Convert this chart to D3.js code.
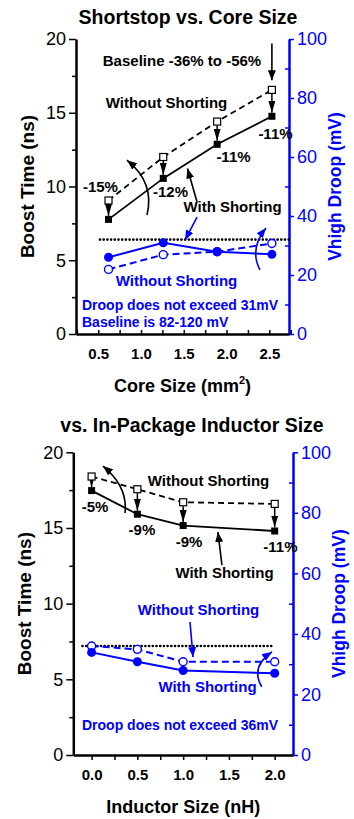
<!DOCTYPE html>
<html>
<head>
<meta charset="utf-8">
<script src="https://cdn.jsdelivr.net/npm/d3@7"></script>
<style>
  body { margin: 0; background: #fff; }
  svg { font-family: "Liberation Sans", Arial, sans-serif; }
</style>
</head>
<body>
<script>
// ---- data ----
// panel 1: core size
var coreSize      = [0.62, 1.26, 1.89, 2.53];
var boostNoShort1 = [9.05, 12.0, 14.4, 16.55];
var boostShort1   = [7.77, 10.55, 12.86, 14.76];
var droopShort1   = [26.0, 30.9, 27.9, 27.0];
var droopNoShort1 = [21.9, 26.9, 27.9, 30.7];
var reduction1    = ["-15%", "-12%", "-11%", "-11%"];
var droopLimit1   = 32;

// panel 2: in-package inductor
var inductorSize  = [0, 0.5, 1.0, 2.0];
var boostNoShort2 = [18.4, 17.56, 16.7, 16.59];
var boostShort2   = [17.47, 15.91, 15.16, 14.8];
var droopShort2   = [33.9, 30.8, 27.9, 27.0];
var droopNoShort2 = [36.0, 34.9, 30.8, 30.8];
var reduction2    = ["-5%", "-9%", "-9%", "-11%"];
var droopLimit2   = 36;

// tick values
var boostTicks = [0, 5, 10, 15, 20];
var boostMinor = [2.5, 7.5, 12.5, 17.5];
var droopTicks = [0, 20, 40, 60, 80, 100];
var droopMinor = [10, 30, 50, 70, 90];
var coreTicks  = [0.5, 1.0, 1.5, 2.0, 2.5];
var coreMinor  = [0.25, 0.75, 1.25, 1.75, 2.25, 2.75];
var indTicks   = [0.0, 0.5, 1.0, 1.5, 2.0];
var indMinor   = [0.25, 0.75, 1.25, 1.75];

var BLUE = "#0000ff";

var svg = d3.select("body").append("svg")
  .attr("width", 354)
  .attr("height", 819);

var defs = svg.append("defs");
function addMarker(id, color, len, wid) {
  defs.append("marker")
    .attr("id", id)
    .attr("viewBox", "0 0 " + len + " " + wid)
    .attr("refX", len).attr("refY", wid / 2)
    .attr("markerWidth", len).attr("markerHeight", wid)
    .attr("markerUnits", "userSpaceOnUse")
    .attr("orient", "auto")
    .append("path")
    .attr("d", "M0,0L" + len + "," + (wid / 2) + "L0," + wid + "z")
    .attr("fill", color);
}
addMarker("headK", "#000", 10, 8);
addMarker("headB", BLUE, 10, 8);
addMarker("headDown", "#000", 12, 7);

// layout of the two panels (annotation spots in data units)
var panels = [
  {
    title: "Shortstop vs. Core Size", titleX: 188, titleY: 24,
    left: 76, right: 289, top: 39, bottom: 334,
    xDomain: [0.24, 2.73], xTicks: coreTicks, xMinor: coreMinor, tickIn: true,
    xLabel: ["Core Size (mm", "2", ")"],
    xs: coreSize, bNo: boostNoShort1, bYes: boostShort1,
    dYes: droopShort1, dNo: droopNoShort1,
    pct: reduction1, limit: droopLimit1, limitX: [0.52, 2.73],
    pctPos: [[0.526, 9.63], [1.345, 9.29], [2.081, 11.66], [2.572, 13.22]],
    texts: [
      {t: "Baseline -36% to -56%", x: 1.479, y: 18.17, c: "#000", s: 15, a: "middle"},
      {t: "Without Shorting", x: 1.298, y: 15.32, c: "#000", s: 15, a: "middle"},
      {t: "With Shorting", x: 2.07, y: 8.27, c: "#000", s: 15, a: "middle"},
      {t: "Without Shorting", x: 1.415, y: 3.25, c: BLUE, s: 15, a: "middle"},
      {t: "Droop does not exceed 31mV", x: 0.31, y: 1.63, c: BLUE, s: 14, a: "start"},
      {t: "Baseline is 82-120 mV", x: 0.31, y: 0.47, c: BLUE, s: 14, a: "start"}
    ],
    arrows: [
      {from: [2.53, 19.7], to: [2.53, 17.2], c: "#000"},
      {from: [1.655, 8.95], to: [1.543, 11.22], c: "#000"},
      {from: [1.655, 7.93], to: [1.514, 6.37], c: BLUE},
      {from: [1.07, 8.07], ctrl: [1.164, 10.24], to: [0.836, 11.78], c: "#000"},
      {from: [2.391, 4.34], ctrl: [2.262, 5.76], to: [2.461, 7.19], c: BLUE}
    ]
  },
  {
    title: "vs. In-Package Inductor Size", titleX: 192, titleY: 432,
    left: 73.3, right: 293, top: 452.3, bottom: 755,
    xDomain: [-0.2, 2.2], xTicks: indTicks, xMinor: indMinor, tickIn: false,
    xLabel: ["Inductor Size (nH)"],
    xs: inductorSize, bNo: boostNoShort2, bYes: boostShort2,
    dYes: droopShort2, dNo: droopNoShort2,
    pct: reduction2, limit: droopLimit2, limitX: [-0.1, 1.98],
    pctPos: [[0.037, 16.06], [0.55, 14.54], [1.064, 13.74], [2.063, 13.41]],
    texts: [
      {t: "Without Shorting", x: 1.277, y: 17.77, c: "#000", s: 15, a: "middle"},
      {t: "With Shorting", x: 1.452, y: 11.69, c: "#000", s: 15, a: "middle"},
      {t: "Without Shorting", x: 1.168, y: 9.25, c: BLUE, s: 15, a: "middle"},
      {t: "With Shorting", x: 1.266, y: 4.16, c: BLUE, s: 15, a: "middle"},
      {t: "Droop does not exceed 36mV", x: -0.105, y: 1.65, c: BLUE, s: 14, a: "start"}
    ],
    arrows: [
      {from: [1.424, 12.55], to: [1.380, 14.73], c: "#000"},
      {from: [0.365, 15.99], ctrl: [0.398, 17.74], to: [0.124, 19.09], c: "#000"},
      {from: [1.075, 8.79], to: [1.108, 6.47], c: BLUE},
      {from: [1.858, 4.51], ctrl: [1.732, 5.84], to: [1.971, 6.81], c: BLUE}
    ]
  }
];

panels.forEach(drawPanel);

function drawPanel(p) {
  var g = svg.append("g");
  var x = d3.scaleLinear().domain(p.xDomain).range([p.left, p.right]);
  var y = d3.scaleLinear().domain([0, 20]).range([p.bottom, p.top]);
  var yR = d3.scaleLinear().domain([0, 100]).range([p.bottom, p.top]);

  // title
  g.append("text")
    .attr("x", p.titleX).attr("y", p.titleY)
    .attr("text-anchor", "middle")
    .style("font-size", "19.5px").style("font-weight", "bold")
    .text(p.title);

  // left axis
  var gl = g.append("g").attr("transform", "translate(" + p.left + ",0)");
  gl.call(d3.axisLeft(y).tickValues(boostTicks).tickSize(7).tickPadding(3).tickSizeOuter(0));
  gl.append("g").call(d3.axisLeft(y).tickValues(boostMinor).tickSize(4).tickFormat("").tickSizeOuter(0))
    .select(".domain").remove();
  gl.selectAll("text").style("font-size", "18px").attr("fill", "#000");
  gl.selectAll("line").attr("stroke", "#000").attr("stroke-width", 1.5);
  gl.select(".domain").attr("stroke", "#000").attr("stroke-width", 2.5);

  // right axis
  var gr = g.append("g").attr("transform", "translate(" + p.right + ",0)");
  gr.call(d3.axisRight(yR).tickValues(droopTicks).tickSize(5).tickPadding(3).tickSizeOuter(0));
  gr.append("g").call(d3.axisRight(yR).tickValues(droopMinor).tickSize(-4).tickFormat("").tickSizeOuter(0))
    .select(".domain").remove();
  gr.selectAll("text").style("font-size", "18px").attr("fill", BLUE);
  gr.selectAll("line").attr("stroke", BLUE).attr("stroke-width", 1.5);
  gr.select(".domain").attr("stroke", BLUE).attr("stroke-width", 2.5);

  // bottom axis
  var gb = g.append("g").attr("transform", "translate(0," + p.bottom + ")");
  var tk = p.tickIn ? -4 : 5;
  gb.call(d3.axisBottom(x).tickValues(p.xTicks).tickSize(tk)
    .tickPadding(p.tickIn ? 14 : 9).tickSizeOuter(0).tickFormat(d3.format(".1f")));
  gb.append("g").call(d3.axisBottom(x).tickValues(p.xMinor).tickSize(tk).tickFormat("").tickSizeOuter(0))
    .select(".domain").remove();
  gb.selectAll("text").style("font-size", "15px").style("font-weight", "bold").attr("fill", "#000");
  gb.selectAll("line").attr("stroke", "#000").attr("stroke-width", 1.5);
  gb.select(".domain").attr("stroke", "#000").attr("stroke-width", 2.5);

  // axis titles
  var xl = g.append("text")
    .attr("x", (p.left + p.right) / 2).attr("y", p.bottom + 58)
    .attr("text-anchor", "middle")
    .style("font-size", "18px").style("font-weight", "bold");
  xl.append("tspan").text(p.xLabel[0]);
  if (p.xLabel.length > 1) {
    xl.append("tspan").attr("dy", -8).style("font-size", "11px").text(p.xLabel[1]);
    xl.append("tspan").attr("dy", 8).text(p.xLabel[2]);
  }
  var cy = (p.top + p.bottom) / 2;
  g.append("text")
    .attr("transform", "translate(" + (p.left - 42) + "," + cy + ") rotate(-90)")
    .attr("text-anchor", "middle")
    .style("font-size", "19px").style("font-weight", "bold")
    .text("Boost Time (ns)");
  g.append("text")
    .attr("transform", "translate(" + (p.right + 52) + "," + cy + ") rotate(-90)")
    .attr("text-anchor", "middle")
    .style("font-size", "17.5px").style("font-weight", "bold")
    .attr("fill", BLUE)
    .text("Vhigh Droop (mV)");

  // droop limit (dotted)
  g.append("line")
    .attr("x1", x(p.limitX[0])).attr("x2", x(p.limitX[1]))
    .attr("y1", yR(p.limit)).attr("y2", yR(p.limit))
    .attr("stroke", "#000").attr("stroke-width", 2.6)
    .attr("stroke-dasharray", "0.1,3.6").attr("stroke-linecap", "round");

  var idx = d3.range(p.xs.length);
  var lineB = d3.line().x(function(i) { return x(p.xs[i]); });

  // droop lines
  g.append("path")
    .attr("d", lineB.y(function(i) { return yR(p.dNo[i]); })(idx))
    .attr("fill", "none").attr("stroke", BLUE).attr("stroke-width", 2)
    .attr("stroke-dasharray", "7,4");
  g.append("path")
    .attr("d", lineB.y(function(i) { return yR(p.dYes[i]); })(idx))
    .attr("fill", "none").attr("stroke", BLUE).attr("stroke-width", 2);

  // boost lines
  g.append("path")
    .attr("d", lineB.y(function(i) { return y(p.bNo[i]); })(idx))
    .attr("fill", "none").attr("stroke", "#000").attr("stroke-width", 1.8)
    .attr("stroke-dasharray", "6,4");
  g.append("path")
    .attr("d", lineB.y(function(i) { return y(p.bYes[i]); })(idx))
    .attr("fill", "none").attr("stroke", "#000").attr("stroke-width", 1.8);

  // small down arrows from open to filled squares
  g.selectAll(".dn").data(idx).enter().append("line")
    .attr("x1", function(i) { return x(p.xs[i]); })
    .attr("x2", function(i) { return x(p.xs[i]); })
    .attr("y1", function(i) { return y(p.bNo[i]) + 4; })
    .attr("y2", function(i) { return y(p.bYes[i]) - 3.5; })
    .attr("stroke", "#000").attr("stroke-width", 1.5)
    .attr("marker-end", "url(#headDown)");

  // markers: droop circles
  g.selectAll(".dno").data(idx).enter().append("circle")
    .attr("cx", function(i) { return x(p.xs[i]); })
    .attr("cy", function(i) { return yR(p.dNo[i]); })
    .attr("r", 4).attr("fill", "#fff").attr("stroke", BLUE).attr("stroke-width", 1.4);
  g.selectAll(".dyes").data(idx).enter().append("circle")
    .attr("cx", function(i) { return x(p.xs[i]); })
    .attr("cy", function(i) { return yR(p.dYes[i]); })
    .attr("r", 4.5).attr("fill", BLUE);

  // markers: boost squares
  g.selectAll(".bno").data(idx).enter().append("rect")
    .attr("x", function(i) { return x(p.xs[i]) - 3.5; })
    .attr("y", function(i) { return y(p.bNo[i]) - 3.5; })
    .attr("width", 7).attr("height", 7)
    .attr("fill", "#fff").attr("stroke", "#000").attr("stroke-width", 1.2);
  g.selectAll(".byes").data(idx).enter().append("rect")
    .attr("x", function(i) { return x(p.xs[i]) - 3.5; })
    .attr("y", function(i) { return y(p.bYes[i]) - 3.5; })
    .attr("width", 7).attr("height", 7)
    .attr("fill", "#000");

  // percentage labels
  g.selectAll(".pct").data(idx).enter().append("text")
    .attr("x", function(i) { return x(p.pctPos[i][0]); })
    .attr("y", function(i) { return y(p.pctPos[i][1]); })
    .attr("text-anchor", "middle")
    .style("font-size", "15px").style("font-weight", "bold")
    .text(function(i) { return p.pct[i]; });

  // text notes
  p.texts.forEach(function(t) {
    g.append("text")
      .attr("x", x(t.x)).attr("y", y(t.y))
      .attr("text-anchor", t.a)
      .attr("fill", t.c)
      .style("font-size", t.s + "px").style("font-weight", "bold")
      .text(t.t);
  });

  // arrows
  p.arrows.forEach(function(a) {
    var d;
    if (a.ctrl) {
      d = "M" + x(a.from[0]) + "," + y(a.from[1]) +
          "Q" + x(a.ctrl[0]) + "," + y(a.ctrl[1]) + " " + x(a.to[0]) + "," + y(a.to[1]);
    } else {
      d = "M" + x(a.from[0]) + "," + y(a.from[1]) + "L" + x(a.to[0]) + "," + y(a.to[1]);
    }
    g.append("path")
      .attr("d", d)
      .attr("fill", "none")
      .attr("stroke", a.c).attr("stroke-width", 1.6)
      .attr("marker-end", a.c === BLUE ? "url(#headB)" : "url(#headK)");
  });
}
</script>
</body>
</html>
